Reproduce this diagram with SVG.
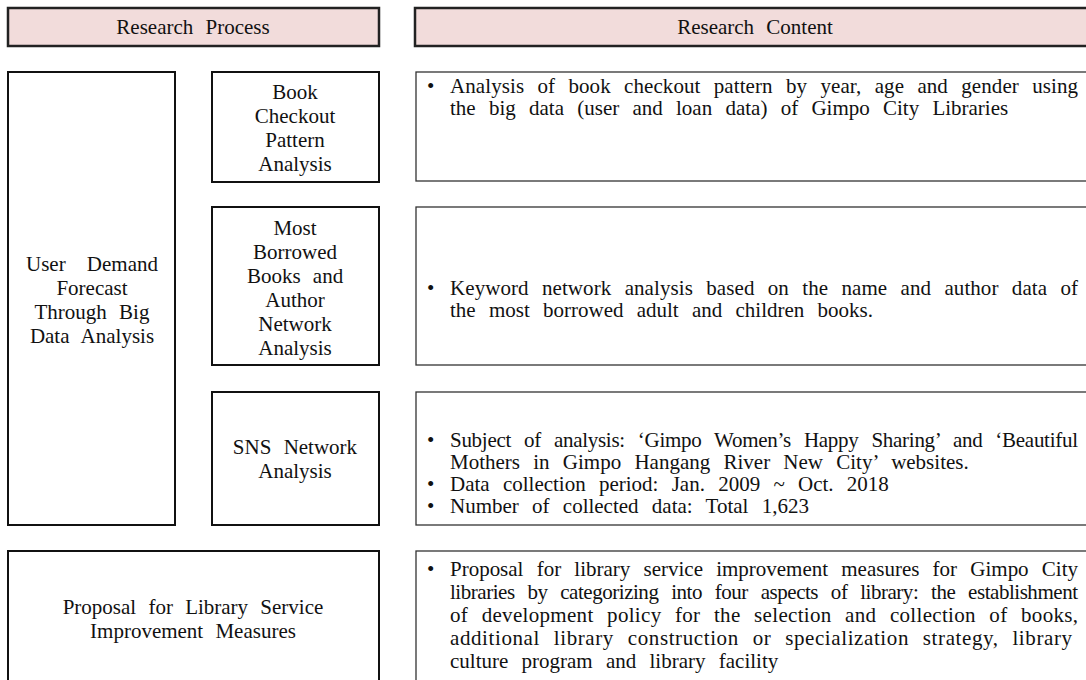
<svg xmlns="http://www.w3.org/2000/svg" width="1086" height="680" viewBox="0 0 1086 680" font-family="'Liberation Serif', 'Times New Roman', 'DejaVu Serif', serif">
<style>
.hdr{fill:#f2dcdb;stroke:#222;stroke-width:2.5}
.lb{fill:#fff;stroke:#111;stroke-width:2}
.rb{fill:#fff;stroke:#333;stroke-width:1.3}
text{font-family:"Liberation Serif","Times New Roman","DejaVu Serif",serif;fill:#111;font-size:21px}
.c{text-anchor:middle;word-spacing:7px}
.r{word-spacing:8px}
</style>
<rect width="1086" height="680" fill="#fff"/>
<g id="hdr-process"><rect class="hdr" x="8" y="8" width="371" height="38"/><text class="c" x="193" y="34">Research Process</text></g>
<g id="hdr-content"><rect class="hdr" x="415" y="8" width="680" height="38"/><text class="c" x="755" y="34">Research Content</text></g>
<g id="n-user-demand"><rect class="lb" x="8" y="72" width="167" height="453"/>
<text class="c" x="92" y="271" style="word-spacing:16px">User Demand</text><text class="c" x="92" y="295">Forecast</text><text class="c" x="92" y="319">Through Big</text><text class="c" x="92" y="343">Data Analysis</text></g>
<g id="n-book-checkout"><rect class="lb" x="212" y="72" width="167" height="110"/>
<text class="c" x="295" y="99">Book</text><text class="c" x="295" y="123">Checkout</text><text class="c" x="295" y="147">Pattern</text><text class="c" x="295" y="171">Analysis</text></g>
<g id="n-most-borrowed"><rect class="lb" x="212" y="207" width="167" height="158"/>
<text class="c" x="295" y="235">Most</text><text class="c" x="295" y="259">Borrowed</text><text class="c" x="295" y="283">Books and</text><text class="c" x="295" y="307">Author</text><text class="c" x="295" y="331">Network</text><text class="c" x="295" y="355">Analysis</text></g>
<g id="n-sns"><rect class="lb" x="212" y="392" width="167" height="133"/>
<text class="c" x="295" y="454">SNS Network</text><text class="c" x="295" y="478">Analysis</text></g>
<g id="n-proposal"><rect class="lb" x="8" y="551" width="371" height="140"/>
<text class="c" x="193" y="614">Proposal for Library Service</text><text class="c" x="193" y="638">Improvement Measures</text></g>
<g id="c-book-checkout"><rect class="rb" x="416" y="72" width="680" height="109"/>
<text class="r" x="427" y="93">•</text><text class="r" x="450" y="93" textLength="628" lengthAdjust="spacing">Analysis of book checkout pattern by year, age and gender using</text>
<text class="r" x="450" y="115">the big data (user and loan data) of Gimpo City Libraries</text></g>
<g id="c-most-borrowed"><rect class="rb" x="416" y="207" width="680" height="158"/>
<text class="r" x="427" y="295">•</text><text class="r" x="450" y="295" textLength="628" lengthAdjust="spacing">Keyword network analysis based on the name and author data of</text>
<text class="r" x="450" y="317">the most borrowed adult and children books.</text></g>
<g id="c-sns"><rect class="rb" x="416" y="392" width="680" height="133"/>
<text class="r" x="427" y="447">•</text><text class="r" x="450" y="447" textLength="628" lengthAdjust="spacing">Subject of analysis: ‘Gimpo Women’s Happy Sharing’ and ‘Beautiful</text>
<text class="r" x="450" y="469">Mothers in Gimpo Hangang River New City’ websites.</text>
<text class="r" x="427" y="491">•</text><text class="r" x="450" y="491">Data collection period: Jan. 2009 ~ Oct. 2018</text>
<text class="r" x="427" y="513">•</text><text class="r" x="450" y="513">Number of collected data: Total 1,623</text></g>
<g id="c-proposal"><rect class="rb" x="416" y="551" width="680" height="140"/>
<text class="r" x="427" y="576">•</text><text class="r" x="450" y="576" textLength="628" lengthAdjust="spacing">Proposal for library service improvement measures for Gimpo City</text>
<text class="r" x="450" y="599" textLength="628" lengthAdjust="spacing">libraries by categorizing into four aspects of library: the establishment</text>
<text class="r" x="450" y="622" textLength="628" lengthAdjust="spacing">of development policy for the selection and collection of books,</text>
<text class="r" x="450" y="645" textLength="622" lengthAdjust="spacing">additional library construction or specialization strategy, library</text>
<text class="r" x="450" y="668">culture program and library facility</text></g>
<g id="connectors"/>
</svg>
